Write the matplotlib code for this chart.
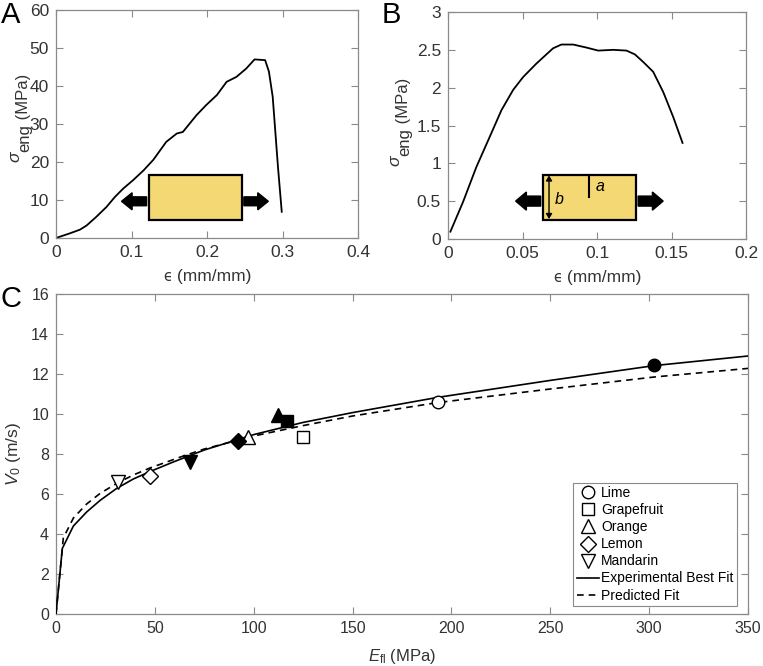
import matplotlib
matplotlib.use("Agg")
import matplotlib.pyplot as plt
from matplotlib.patches import Rectangle, FancyArrow, FancyArrowPatch
from matplotlib.transforms import IdentityTransform

# ---------------- data ----------------
strainA = [0.0, 0.018, 0.0318, 0.0406, 0.053, 0.067, 0.078, 0.089, 0.102, 0.116, 0.129,
           0.146, 0.160, 0.168, 0.186, 0.199, 0.213, 0.226, 0.239, 0.252, 0.263, 0.277,
           0.282, 0.287, 0.290, 0.294, 0.299]
stressA = [0.0, 1.2, 2.2, 3.3, 5.5, 8.2, 10.8, 13.0, 15.2, 17.8, 20.6,
           25.3, 27.5, 27.9, 32.3, 35.0, 37.6, 41.1, 42.4, 44.6, 47.0, 46.8,
           43.8, 37.2, 29.3, 18.7, 6.9]

strainB = [0.0016, 0.0101, 0.019, 0.028, 0.0358, 0.0437, 0.0504, 0.0594, 0.0705, 0.0761,
           0.084, 0.0929, 0.1008, 0.111, 0.1198, 0.1254, 0.131, 0.1377, 0.1445, 0.1512, 0.1574]
stressB = [0.097, 0.49, 0.95, 1.35, 1.70, 1.97, 2.14, 2.32, 2.52, 2.57,
           2.57, 2.53, 2.49, 2.50, 2.49, 2.44, 2.34, 2.21, 1.94, 1.61, 1.27]

fruits = ["Lime", "Grapefruit", "Orange", "Lemon", "Mandarin"]
E_open = [193.4, 125.1, 97.3, 47.5, 31.5]
V_open = [10.6, 8.83, 8.83, 6.9, 6.6]
E_filled = [302.6, 116.7, 112.5, 92.2, 67.8]
V_filled = [12.45, 9.67, 9.95, 8.65, 7.6]

E_exp = [0, 3.2, 8.8, 15.5, 22.3, 30.7, 39.1, 47.5, 59.3, 75, 100, 125, 150, 193, 250, 302.6, 350]
V_exp = [0, 3.28, 4.4, 5.1, 5.68, 6.28, 6.75, 7.12, 7.6, 8.2, 8.97, 9.58, 10.07, 10.83, 11.68, 12.42, 12.9]
E_pred = [0, 3.7, 8.8, 15.5, 22.3, 30.7, 39.1, 47.5, 64.4, 75, 100, 125, 150, 193, 250, 302.6, 350]
V_pred = [0, 3.8, 4.8, 5.5, 6.03, 6.53, 6.95, 7.3, 7.9, 8.25, 8.9, 9.42, 9.9, 10.57, 11.25, 11.85, 12.28]

# ---------------- style ----------------
plt.rcParams["font.family"] = ["Liberation Sans", "DejaVu Sans"]
plt.rcParams["mathtext.fontset"] = "custom"
plt.rcParams["mathtext.rm"] = "Liberation Sans"
plt.rcParams["mathtext.it"] = "Liberation Sans:italic"
plt.rcParams["mathtext.bf"] = "Liberation Sans:bold"
plt.rcParams["mathtext.fallback"] = "cm"

SP = "#8a8a8a"
TX = "#333333"
YEL = "#F3D873"
W, H = 763, 666

fig = plt.figure(figsize=(W / 100, H / 100), dpi=100)
renderer = fig.canvas.get_renderer()


def style_axes(ax, fs, pad=4):
    for s in ax.spines.values():
        s.set_color(SP)
        s.set_linewidth(0.9)
    ax.tick_params(direction="in", top=True, right=True, length=5, width=0.8,
                   color=SP, labelcolor=TX, labelsize=fs, pad=pad)


def rot_label(x_base, yc, parts):
    """Vertical label built from pieces; x_base = baseline x (px from left),
    yc = centre (px from top)."""
    items = []
    for s, fs, dx, style, fam in parts:
        t = fig.text(0, 0, s, fontsize=fs, rotation=90, rotation_mode="anchor",
                     ha="left", va="baseline", style=style, color=TX, family=fam,
                     transform=IdentityTransform())
        items.append((t, dx))
    lengths = [t.get_window_extent(renderer).height for t, _ in items]
    y = (H - yc) - sum(lengths) / 2
    for (t, dx), L in zip(items, lengths):
        t.set_position((x_base + dx, y))
        y += L


def hor_label(xc, y_base, parts):
    """Horizontal label built from pieces; xc = centre (px from left),
    y_base = baseline (px from top)."""
    items = []
    for s, fs, dy, style, fam in parts:
        t = fig.text(0, 0, s, fontsize=fs, ha="left", va="baseline", style=style,
                     color=TX, family=fam, transform=IdentityTransform())
        items.append((t, dy))
    lengths = [t.get_window_extent(renderer).width for t, _ in items]
    x = xc - sum(lengths) / 2
    for (t, dy), L in zip(items, lengths):
        t.set_position((x, (H - y_base) + dy))
        x += L


LIB = ["Liberation Sans", "DejaVu Sans"]
DJV = ["DejaVu Sans"]


def sigma_label(x_base, yc):
    rot_label(x_base, yc, [("σ", 12.5, -9, "italic", LIB), ("eng", 12, 1, "normal", LIB),
                           (" (MPa)", 12, 0, "normal", LIB)])


def eps_label(xc, y_base):
    hor_label(xc, y_base, [("ϵ", 10.5, 0, "normal", DJV), (" (mm/mm)", 12.5, 0, "normal", LIB)])


# ---------------- panel A ----------------
axA = fig.add_axes([56 / W, 1 - 238 / H, 302 / W, 228 / H])
axA.plot(strainA, stressA, color="black", lw=1.3)
axA.set_xlim(0, 0.4)
axA.set_ylim(0, 60)
axA.set_xticks([0, 0.1, 0.2, 0.3, 0.4])
axA.set_xticklabels(["0", "0.1", "0.2", "0.3", "0.4"])
axA.set_yticks([0, 10, 20, 30, 40, 50, 60])
style_axes(axA, 12.5, pad=5)
eps_label(207, 281)
sigma_label(28, 118)

axA.add_patch(Rectangle((0.308, 0.078), 0.307, 0.200, transform=axA.transAxes,
                        facecolor=YEL, edgecolor="black", lw=1.6, zorder=3))
axA.add_patch(FancyArrow(0.300, 0.161, -0.083, 0, width=0.039, head_width=0.075,
                         head_length=0.035, length_includes_head=True,
                         transform=axA.transAxes, color="black", zorder=3))
axA.add_patch(FancyArrow(0.622, 0.161, 0.081, 0, width=0.039, head_width=0.075,
                         head_length=0.035, length_includes_head=True,
                         transform=axA.transAxes, color="black", zorder=3))

# ---------------- panel B ----------------
axB = fig.add_axes([448 / W, 1 - 239 / H, 298 / W, 227 / H])
axB.plot(strainB, stressB, color="black", lw=1.3)
axB.set_xlim(0, 0.2)
axB.set_ylim(0, 3)
axB.set_xticks([0, 0.05, 0.1, 0.15, 0.2])
axB.set_xticklabels(["0", "0.05", "0.1", "0.15", "0.2"])
axB.set_yticks([0, 0.5, 1, 1.5, 2, 2.5, 3])
axB.set_yticklabels(["0", "0.5", "1", "1.5", "2", "2.5", "3"])
style_axes(axB, 12.5, pad=5)
eps_label(597, 282)
sigma_label(408, 122)

axB.add_patch(Rectangle((0.319, 0.084), 0.311, 0.200, transform=axB.transAxes,
                        facecolor=YEL, edgecolor="black", lw=1.6, zorder=3))
axB.plot([0.474, 0.474], [0.284, 0.183], transform=axB.transAxes, color="black", lw=1.5, zorder=4)
axB.add_patch(FancyArrowPatch((0.339, 0.088), (0.339, 0.280), transform=axB.transAxes,
                              arrowstyle="<|-|>,head_length=3,head_width=1.8",
                              color="black", lw=1.0, shrinkA=0, shrinkB=0, zorder=4))
axB.text(0.51, 0.232, "a", transform=axB.transAxes, fontsize=11.5, style="italic",
         ha="center", va="center", zorder=5)
axB.text(0.372, 0.176, "b", transform=axB.transAxes, fontsize=11.5, style="italic",
         ha="center", va="center", zorder=5)
axB.add_patch(FancyArrow(0.311, 0.167, -0.084, 0, width=0.044, head_width=0.08,
                         head_length=0.036, length_includes_head=True,
                         transform=axB.transAxes, color="black", zorder=3))
axB.add_patch(FancyArrow(0.638, 0.167, 0.084, 0, width=0.044, head_width=0.08,
                         head_length=0.036, length_includes_head=True,
                         transform=axB.transAxes, color="black", zorder=3))

# ---------------- panel C ----------------
axC = fig.add_axes([56 / W, 1 - 614 / H, 692 / W, 320 / H])
markers = ["o", "s", "^", "D", "v"]
msizes = [9, 8, 10, 8, 10]
for name, m, ms, eo, vo in zip(fruits, markers, msizes, E_open, V_open):
    axC.plot([eo], [vo], linestyle="none", marker=m, ms=ms, mfc="white",
             mec="black", mew=1.0, label=name, zorder=4)
for m, ms, ef, vf in zip(markers, msizes, E_filled, V_filled):
    axC.plot([ef], [vf], linestyle="none", marker=m, ms=ms, mfc="black",
             mec="black", mew=1.0, zorder=4)
axC.plot(E_exp, V_exp, color="black", lw=1.2, label="Experimental Best Fit", zorder=3)
axC.plot(E_pred, V_pred, color="black", lw=1.2, dashes=(4, 3), label="Predicted Fit", zorder=3)
axC.set_xlim(0, 350)
axC.set_ylim(0, 16)
axC.set_xticks(range(0, 351, 50))
axC.set_yticks(range(0, 17, 2))
style_axes(axC, 11.5, pad=5)
axC.set_xlabel(r"$E_{\mathrm{fl}}$ (MPa)", fontsize=12, color=TX, labelpad=8)
axC.set_ylabel(r"$V_0$ (m/s)", fontsize=12.5, color=TX, labelpad=6)
leg = axC.legend(loc="lower right", bbox_to_anchor=(0.984, 0.025), fontsize=10,
                 frameon=True, fancybox=False, framealpha=1, edgecolor=SP,
                 handlelength=1.6, handletextpad=0.15, labelspacing=0.22,
                 borderpad=0.25, borderaxespad=0)
leg.get_frame().set_linewidth(0.8)

# panel letters
fig.text(1 / W, 1 - 15 / H, "A", fontsize=21, va="center", ha="left")
fig.text(382 / W, 1 - 15 / H, "B", fontsize=21, va="center", ha="left")
fig.text(1 / W, 1 - 299 / H, "C", fontsize=21, va="center", ha="left")

fig.savefig("out.png", dpi=100)
